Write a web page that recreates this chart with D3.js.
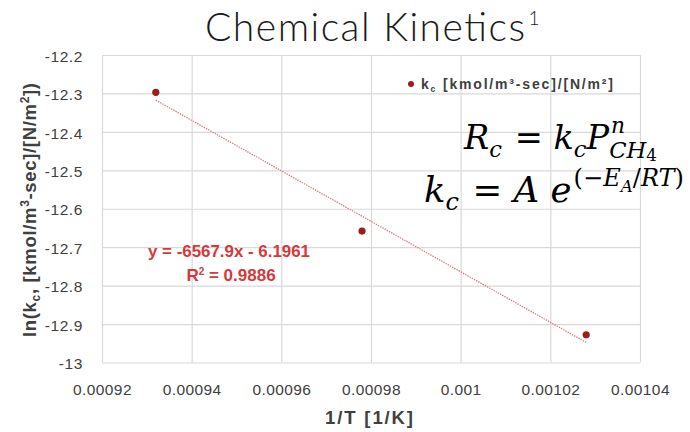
<!DOCTYPE html>
<html>
<head>
<meta charset="utf-8">
<script src="https://cdn.jsdelivr.net/npm/d3@7"></script>
<style>
  html, body { margin: 0; padding: 0; background: #ffffff; }
  svg { display: block; }
</style>
</head>
<body>
<svg id="chart" width="690" height="432"></svg>
<script>
// Arrhenius data: ln(kc) against 1/T
const invT = [0.000932, 0.000978, 0.001028];
const lnKc = [-12.297, -12.658, -12.928];

// Linear fit reported for the series
const fitSlope = -6567.9;
const fitIntercept = -6.1961;
const fitR2 = 0.9886;

const xTicks = [0.00092, 0.00094, 0.00096, 0.00098, 0.001, 0.00102, 0.00104];
const yTicks = [-13, -12.9, -12.8, -12.7, -12.6, -12.5, -12.4, -12.3, -12.2];

const svg = d3.select("#chart");
const plot = { left: 102, right: 640, top: 55, bottom: 362.5 };

const x = d3.scaleLinear().domain([0.00092, 0.00104]).range([plot.left, plot.right]);
const y = d3.scaleLinear().domain([-13, -12.2]).range([plot.bottom, plot.top]);

const fmt = v => String(+v.toFixed(5));
const labelFont = "'Liberation Sans', Arial, sans-serif";

// Title
const title = svg.append("text")
  .attr("x", 205).attr("y", 41)
  .attr("font-family", "Lato, 'Noto Sans', sans-serif")
  .attr("font-weight", 300)
  .attr("font-size", 39)
  .attr("fill", "#1a1a1a");
title.append("tspan").text("Chemical Kinetics")
  .attr("textLength", 320).attr("lengthAdjust", "spacing");
title.append("tspan").attr("font-size", 19).attr("dy", -16).attr("dx", 2).text("1");

// Gridlines + tick labels
const gx = svg.append("g")
  .attr("transform", `translate(0,${plot.bottom})`)
  .call(d3.axisBottom(x).tickValues(xTicks).tickFormat(fmt)
    .tickSize(-(plot.bottom - plot.top)).tickPadding(21));
const gy = svg.append("g")
  .attr("transform", `translate(${plot.left},0)`)
  .call(d3.axisLeft(y).tickValues(yTicks).tickFormat(fmt)
    .tickSize(-(plot.right - plot.left)).tickPadding(19));

[gx, gy].forEach(g => {
  g.select(".domain").remove();
  g.selectAll(".tick line").attr("stroke", "#d9d9d9").attr("stroke-width", 1.2);
  g.selectAll(".tick text")
    .attr("font-family", labelFont)
    .attr("font-size", 15.5)
    .attr("fill", "#404040");
});
gx.selectAll(".tick text").style("letter-spacing", "0.4px");
gy.selectAll(".tick text").style("letter-spacing", "0.6px").attr("dy", "0.4em");

// Axis titles
svg.append("text")
  .attr("x", 369).attr("y", 424)
  .attr("text-anchor", "middle")
  .attr("font-family", labelFont).attr("font-weight", "bold")
  .attr("font-size", 18.5).attr("fill", "#404040")
  .attr("textLength", 88).attr("lengthAdjust", "spacing")
  .text("1/T [1/K]");

const yTitle = svg.append("text")
  .attr("transform", "translate(36,210) rotate(-90)")
  .attr("text-anchor", "middle")
  .attr("font-family", labelFont).attr("font-weight", "bold")
  .attr("font-size", 18.5).attr("fill", "#404040")
  .attr("textLength", 254).attr("lengthAdjust", "spacing");
yTitle.append("tspan").text("ln(k");
yTitle.append("tspan").attr("font-size", 12).attr("dy", 4).text("c");
yTitle.append("tspan").attr("dy", -4).text(", [kmol/m");
yTitle.append("tspan").attr("font-size", 12).attr("dy", -7).text("3");
yTitle.append("tspan").attr("dy", 7).text("-sec]/[N/m");
yTitle.append("tspan").attr("font-size", 12).attr("dy", -7).text("2");
yTitle.append("tspan").attr("dy", 7).text("])");

// Trendline over the data range
const xs = d3.extent(invT);
svg.append("line")
  .attr("x1", x(xs[0])).attr("y1", y(fitSlope * xs[0] + fitIntercept))
  .attr("x2", x(xs[1])).attr("y2", y(fitSlope * xs[1] + fitIntercept))
  .attr("stroke", "#d98080").attr("stroke-width", 1.3)
  .attr("stroke-dasharray", "1.5,1");

// Data points
svg.append("g").selectAll("circle")
  .data(invT.map((v, i) => [v, lnKc[i]]))
  .join("circle")
  .attr("cx", d => x(d[0])).attr("cy", d => y(d[1]))
  .attr("r", 3.6).attr("fill", "#9e1c1c");

// Fit equation label
const eq = svg.append("g")
  .attr("font-family", labelFont).attr("font-weight", "bold")
  .attr("font-size", 17).attr("fill", "#d6393b")
  .attr("text-anchor", "middle");
eq.append("text").attr("x", 229).attr("y", 257)
  .attr("textLength", 162).attr("lengthAdjust", "spacingAndGlyphs")
  .text(`y = ${fitSlope}x - ${Math.abs(fitIntercept)}`);
const r2t = eq.append("text").attr("x", 231).attr("y", 281);
r2t.append("tspan").text("R");
r2t.append("tspan").attr("font-size", 10).attr("dy", -6).text("2");
r2t.append("tspan").attr("dy", 6).text(` = ${fitR2}`);

// Legend
svg.append("circle").attr("cx", 411).attr("cy", 84).attr("r", 3).attr("fill", "#9e1c1c");
const lg = svg.append("text")
  .attr("x", 421).attr("y", 89)
  .attr("font-family", labelFont).attr("font-weight", "bold")
  .attr("font-size", 14).attr("fill", "#404040")
  .attr("textLength", 192).attr("lengthAdjust", "spacing");
lg.append("tspan").text("k");
lg.append("tspan").attr("font-size", 8.5).attr("dy", 3).text("c");
lg.append("tspan").attr("dy", -3).text(" [kmol/m\u00B3-sec]/[N/m\u00B2]");

// Rate-law equations, typeset from pieces
function mathLine(x0, baseline, targetWidth, pieces) {
  const g = svg.append("g");
  let cx = 0;
  pieces.forEach(p => {
    const t = g.append("text")
      .attr("x", cx + (p.dx || 0))
      .attr("y", p.dy || 0)
      .attr("font-family", "'DejaVu Serif', 'Liberation Serif', serif")
      .attr("font-style", p.up ? "normal" : "italic")
      .attr("font-size", p.size)
      .attr("fill", "#000")
      .style("white-space", "pre")
      .text(p.t);
    const w = t.node().getComputedTextLength();
    if (!p.hold) cx += w + (p.dx || 0);
  });
  const bb = g.node().getBBox();
  const s = targetWidth / bb.width;
  g.attr("transform", `translate(${x0 - bb.x * s},${baseline}) scale(${s})`);
}

const line1 = [
  { t: "R", size: 34 },
  { t: "c", size: 23, dy: 8 },
  { t: " = ", size: 34, up: true, dx: 2 },
  { t: "k", size: 34 },
  { t: "c", size: 23, dy: 8 },
  { t: "P", size: 34 },
  { t: "n", size: 22, dy: -16, hold: true, dx: 2 },
  { t: "CH", size: 23, dy: 9 },
  { t: "4", size: 17, dy: 12, up: true }
];
mathLine(463, 149, 194, line1);

const line2 = [
  { t: "k", size: 34 },
  { t: "c", size: 23, dy: 8 },
  { t: " = ", size: 34, up: true, dx: 2 },
  { t: "A", size: 34 },
  { t: " e", size: 34 },
  { t: "(\u2212", size: 23, dy: -15, up: true, dx: 2 },
  { t: "E", size: 23, dy: -15 },
  { t: "A", size: 16, dy: -10 },
  { t: "/", size: 23, dy: -15, up: true },
  { t: "RT", size: 23, dy: -15 },
  { t: ")", size: 23, dy: -15, up: true }
];
mathLine(424, 202, 260, line2);
</script>
</body>
</html>
